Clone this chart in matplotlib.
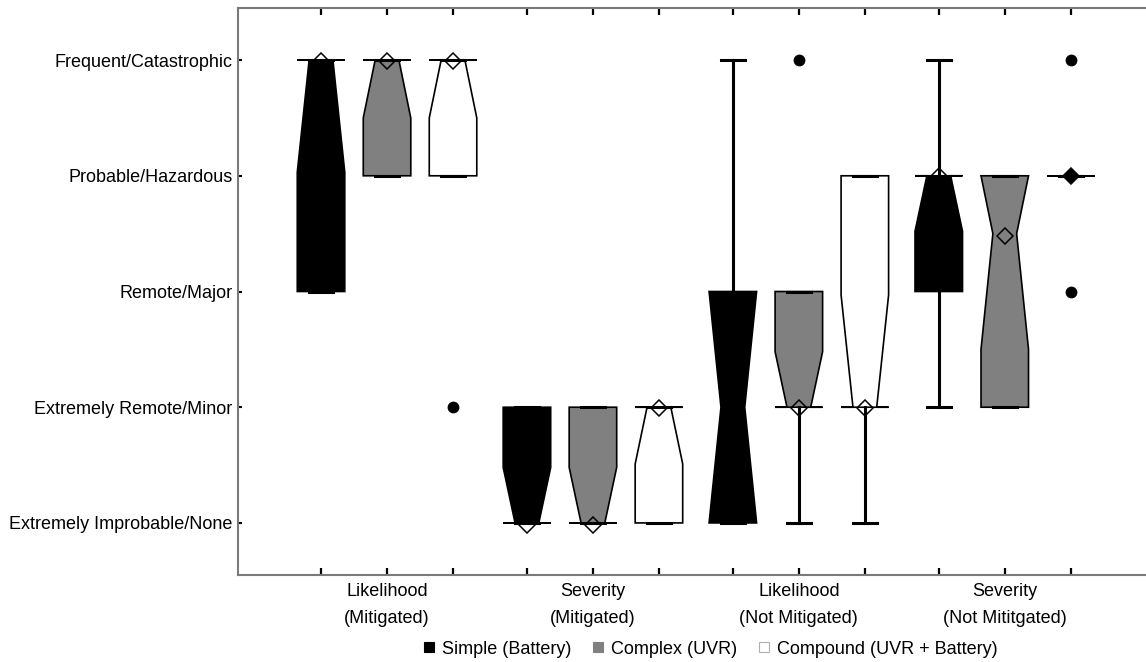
import numpy as np
import matplotlib.pyplot as plt
from matplotlib.lines import Line2D

plt.rcParams['font.family'] = ['Liberation Sans', 'DejaVu Sans']

groups = ["Likelihood\n(Mitigated)", "Severity\n(Mitigated)",
          "Likelihood\n(Not Mitigated)", "Severity\n(Not Mititgated)"]
series = ["Simple (Battery)", "Complex (UVR)", "Compound (UVR + Battery)"]
levels = ["Extremely Improbable/None", "Extremely Remote/Minor", "Remote/Major",
          "Probable/Hazardous", "Frequent/Catastrophic"]

# one row per group, one column per series (1 = lowest level, 5 = highest)
q1 = [[3, 4, 4], [1, 1, 1], [1, 2, 2], [3, 2, 4]]
median = [[5, 5, 5], [1, 1, 2], [2, 2, 2], [4, 3.5, 4]]
q3 = [[5, 5, 5], [2, 2, 2], [3, 3, 4], [4, 4, 4]]
whisker_lo = [[3, 4, 4], [1, 1, 1], [1, 1, 1], [2, 2, 4]]
whisker_hi = [[5, 5, 5], [2, 2, 2], [5, 3, 4], [5, 4, 4]]
notch_lo = [[4.03, 4.5, 4.5], [1, 1, 1.51], [1, 2, 2], [3.52, 2.5, 4]]
notch_hi = [[5, 5, 5], [1.48, 1.48, 2], [3, 2.48, 2.97], [4, 4, 4]]
means = [[4.99, 4.99, 4.99], [0.98, 0.98, 1.99], [2, 1.99, 1.99], [4, 3.48, 4]]
outliers = [[[], [], [2]], [[], [], []], [[], [5], []], [[], [], [5, 3]]]

fills = ["black", "#808080", "white"]
legend_edges = ["black", "#808080", "#b0b0b0"]

group_step = 3.12
box_width = 0.72

fig = plt.figure(figsize=(11.46, 6.62), dpi=100)
ax = fig.add_axes([238 / 1146, 1 - 575 / 662, 1 - 238 / 1146, (575 - 8) / 662])

positions = []
for g in range(len(groups)):
    for s in range(len(series)):
        pos = g * group_step + s
        positions.append(pos)
        stats = dict(q1=q1[g][s], med=median[g][s], q3=q3[g][s],
                     whislo=whisker_lo[g][s], whishi=whisker_hi[g][s],
                     cilo=notch_lo[g][s], cihi=notch_hi[g][s],
                     mean=means[g][s], fliers=outliers[g][s])
        flat = q1[g][s] == q3[g][s]
        ax.bxp([stats], positions=[pos], widths=box_width,
               shownotches=True, showmeans=True, patch_artist=True,
               manage_ticks=False,
               boxprops=dict(facecolor=fills[s], edgecolor="black", linewidth=1.2),
               whiskerprops=dict(color="black", linewidth=2.2),
               capprops=dict(color="black", linewidth=2.2),
               medianprops=dict(linewidth=0),
               meanprops=dict(marker="D", markersize=8.6, markeredgewidth=1.1,
                              markeredgecolor="black",
                              markerfacecolor="black" if flat else "none"),
               flierprops=dict(marker="o", markersize=8.5, markerfacecolor="black",
                               markeredgecolor="black", markeredgewidth=0))

ax.set_xlim(-1.258, 12.5)
ax.set_ylim(0.55, 5.45)

ax.set_yticks(range(1, len(levels) + 1))
ax.set_yticklabels(levels, fontsize=13)
ax.tick_params(axis="y", direction="in", length=3, width=1.5, pad=4)

ax.set_xticks(positions)
ax.set_xticklabels([])
ax.tick_params(axis="x", which="major", direction="in", length=5, width=1.6,
               top=True, bottom=True)

# group labels sit on the middle box of each group
ax.xaxis.remove_overlapping_locs = False
centers = [g * group_step + 1 for g in range(len(groups))]
ax.set_xticks(centers, minor=True)
ax.set_xticklabels(groups, minor=True, fontsize=13)
ax.tick_params(axis="x", which="minor", length=0, pad=6)
for lbl in ax.get_xticklabels(minor=True):
    lbl.set_linespacing(1.78)

for side in ["left", "top", "bottom"]:
    ax.spines[side].set_color("#7a7a7a")
    ax.spines[side].set_linewidth(1.5)
ax.spines["right"].set_visible(False)

handles = [Line2D([], [], linestyle="none", marker="s", markersize=6.5,
                  markerfacecolor=fills[i], markeredgecolor=legend_edges[i],
                  markeredgewidth=0.8)
           for i in range(len(series))]
fig.legend(handles, series, loc="center", bbox_to_anchor=(710 / 1146, 1 - 649 / 662),
           ncol=3, frameon=False, fontsize=13, handlelength=0.7,
           handletextpad=0.4, columnspacing=1.1)

fig.savefig("out.png", dpi=100)
